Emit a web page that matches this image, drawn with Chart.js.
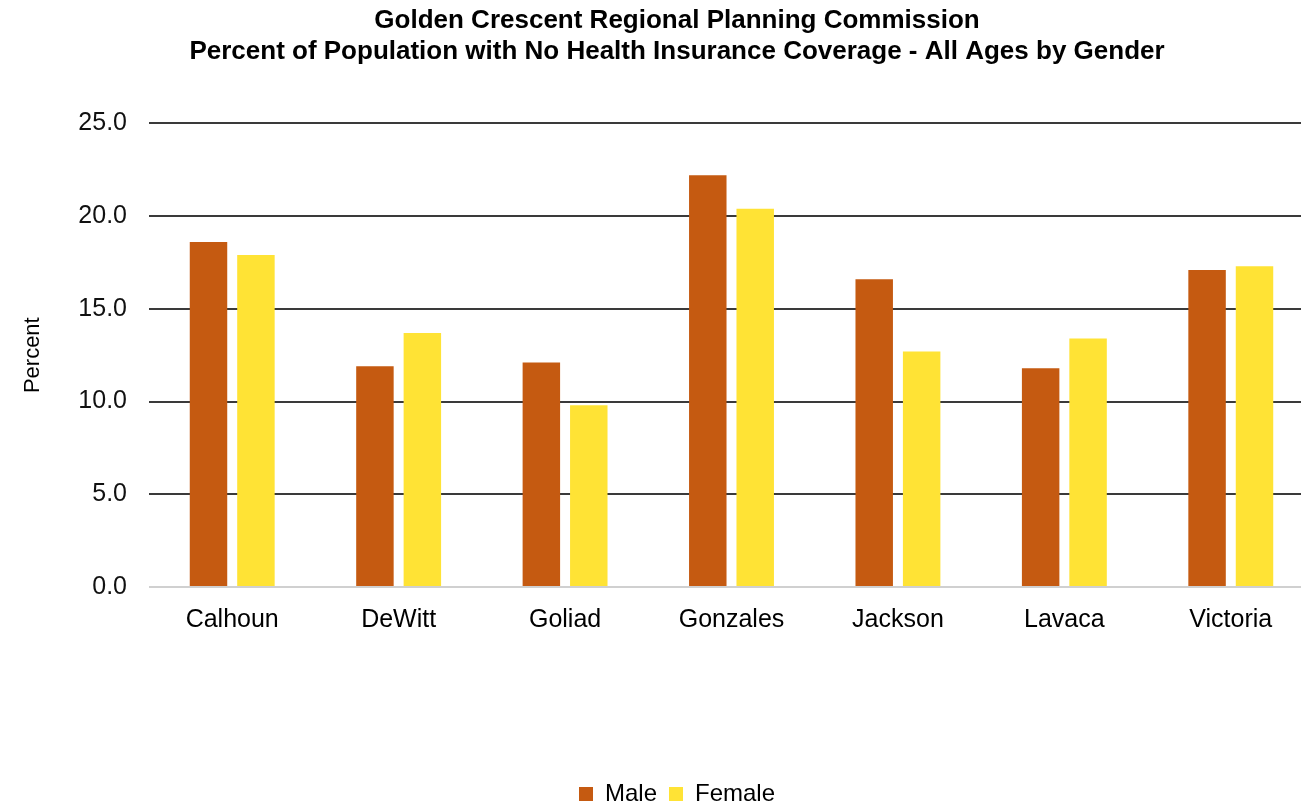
<!DOCTYPE html>
<html>
<head>
<meta charset="utf-8">
<script src="https://cdn.jsdelivr.net/npm/chart.js@4.4.0/dist/chart.umd.min.js"></script>
<style>
  html, body { margin: 0; padding: 0; background: #fff; overflow: hidden; }
  #wrap { width: 1354px; height: 806px; }
</style>
</head>
<body>
<div id="wrap"><canvas id="myChart" width="1354" height="806"></canvas></div>
<script>
var counties = ["Calhoun", "DeWitt", "Goliad", "Gonzales", "Jackson", "Lavaca", "Victoria"];
var maleValues = [18.6, 11.9, 12.1, 22.2, 16.6, 11.8, 17.1];
var femaleValues = [17.9, 13.7, 9.8, 20.4, 12.7, 13.4, 17.3];
var seriesNames = ["Male", "Female"];
var barColors = ["#C55A11", "#FFE335"];

Chart.defaults.font.family = "'Liberation Sans', Arial, sans-serif";

new Chart("myChart", {
  type: "bar",
  data: {
    labels: counties,
    datasets: [{
      label: seriesNames[0],
      backgroundColor: barColors[0],
      data: maleValues
    }, {
      label: seriesNames[1],
      backgroundColor: barColors[1],
      data: femaleValues
    }]
  },
  options: {
    responsive: false,
    animation: false,
    layout: { padding: { left: 0, right: 0, top: 0, bottom: -10 } },
    categoryPercentage: 0.57,
    barPercentage: 0.79,
    plugins: {
      title: {
        display: true,
        text: ["Golden Crescent Regional Planning Commission",
               "Percent of Population with No Health Insurance Coverage - All Ages by Gender"],
        color: "#000",
        font: { size: 26, weight: "bold" },
        lineHeight: 1.48,
        padding: { top: 5, bottom: 56 }
      },
      legend: {
        position: "bottom",
        labels: {
          color: "#000",
          font: { size: 24 },
          boxWidth: 14,
          boxHeight: 14,
          padding: 12
        }
      },
      tooltip: { enabled: false }
    },
    scales: {
      x: {
        grid: { display: false },
        border: { display: false },
        ticks: { color: "#000", font: { size: 25 }, padding: 10 },
        afterFit: function (scale) { scale.height += 125; }
      },
      y: {
        min: 0,
        max: 25,
        ticks: {
          stepSize: 5,
          color: "#111",
          font: { size: 25 },
          padding: 22,
          callback: function (v) { return v.toFixed(1); }
        },
        border: { display: false },
        grid: {
          drawTicks: false,
          lineWidth: 2,
          color: function (ctx) { return ctx.tick && ctx.tick.value === 0 ? "#d0d0d0" : "#3a3a3a"; }
        },
        title: {
          display: true,
          text: "Percent",
          color: "#000",
          font: { size: 22 },
          padding: { top: 20, bottom: 10 }
        },
        afterFit: function (scale) { scale.width = 149; }
      },
      y2: {
        position: "right",
        grid: { display: false },
        border: { display: false },
        ticks: { display: false },
        afterFit: function (scale) { scale.width = 40; }
      }
    }
  }
});
</script>
</body>
</html>
